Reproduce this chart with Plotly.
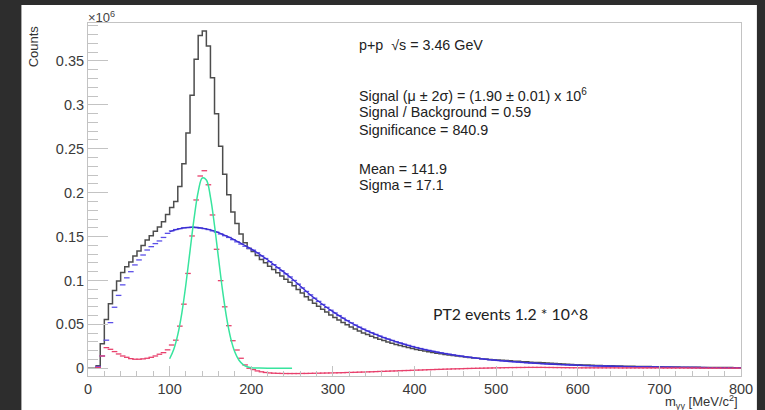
import plotly.graph_objects as go

# ---------------- data ----------------
BIN_WIDTH = 5
X_MAX = 800

# total diphoton mass histogram (counts x 1e6), 5 MeV bins from 0 to 800
total_counts = [
    0, 0, 0.003, 0.028, 0.0555, 0.0736, 0.0885, 0.0993, 0.109, 0.1155,
    0.121, 0.128, 0.1337, 0.1397, 0.146, 0.151, 0.156, 0.161, 0.167, 0.175,
    0.183, 0.190, 0.207, 0.233, 0.268, 0.311, 0.352, 0.379, 0.384, 0.367,
    0.331, 0.290, 0.253, 0.221, 0.1975, 0.178, 0.165, 0.153, 0.143, 0.1365,
    0.1330, 0.1285, 0.1240, 0.1202, 0.1162, 0.1124, 0.1087, 0.1051, 0.1015, 0.0980,
    0.0940, 0.0898, 0.0856, 0.0816, 0.0778, 0.0741, 0.0706, 0.0672, 0.0640, 0.0608,
    0.0578, 0.0549, 0.0521, 0.0495, 0.0470, 0.0446, 0.0424, 0.0403, 0.0384, 0.0365,
    0.0348, 0.0331, 0.0315, 0.0300, 0.0286, 0.0272, 0.0260, 0.0248, 0.0236, 0.0225,
    0.0215, 0.0205, 0.0196, 0.0188, 0.0179, 0.0172, 0.0164, 0.0158, 0.0151, 0.0145,
    0.0139, 0.0133, 0.0128, 0.0123, 0.0118, 0.0113, 0.0109, 0.0105, 0.0101, 0.0097,
    0.0094, 0.0091, 0.0088, 0.0085, 0.0081, 0.0079, 0.0075, 0.0073, 0.0070, 0.0067,
    0.0065, 0.0062, 0.0059, 0.0056, 0.0053, 0.0051, 0.0048, 0.0046, 0.0043, 0.0041,
    0.0039, 0.0037, 0.0036, 0.0034, 0.0033, 0.0032, 0.0030, 0.0029, 0.0028, 0.0027,
    0.0025, 0.0024, 0.0023, 0.0022, 0.0021, 0.0020, 0.0020, 0.0019, 0.0018, 0.0018,
    0.0016, 0.0015, 0.0015, 0.0014, 0.0014, 0.0013, 0.0013, 0.0012, 0.0012, 0.0011,
    0.0010, 0.0010, 0.0009, 0.0009, 0.0009, 0.0008, 0.0008, 0.0008, 0.0007, 0.0007,
]

# combinatorial background histogram (blue points)
background_counts = [
    None, None, 0.002, 0.014, 0.032, 0.052, 0.0695, 0.083, 0.095, 0.103,
    0.110, 0.1177, 0.1234, 0.129, 0.1347, 0.1385, 0.142, 0.145, 0.149, 0.1537,
    0.1565, 0.158, 0.159, 0.160, 0.1603, 0.1605, 0.1602, 0.1597, 0.159, 0.158,
    0.1565, 0.155, 0.153, 0.151, 0.149, 0.1465, 0.144, 0.1415, 0.139, 0.1365,
    0.1345, 0.1315, 0.1280, 0.1250, 0.1215, 0.1180, 0.1145, 0.1110, 0.1075, 0.1040,
    0.1000, 0.0958, 0.0915, 0.0875, 0.0836, 0.0798, 0.0762, 0.0727, 0.0694, 0.0661,
    0.0630, 0.0600, 0.0571, 0.0543, 0.0517, 0.0492, 0.0468, 0.0446, 0.0425, 0.0405,
    0.0386, 0.0367, 0.0350, 0.0333, 0.0317, 0.0302, 0.0288, 0.0274, 0.0261, 0.0248,
    0.0236, 0.0225, 0.0214, 0.0204, 0.0194, 0.0185, 0.0176, 0.0168, 0.0160, 0.0152,
    0.0145, 0.0138, 0.0131, 0.0125, 0.0119, 0.0113, 0.0108, 0.0103, 0.0098, 0.0093,
    0.0089, 0.0085, 0.0081, 0.0077, 0.0073, 0.0070, 0.0066, 0.0063, 0.0060, 0.0057,
    0.0055, 0.0052, 0.0050, 0.0047, 0.0045, 0.0043, 0.0041, 0.0039, 0.0037, 0.0035,
    0.0034, 0.0032, 0.0031, 0.0029, 0.0028, 0.0027, 0.0025, 0.0024, 0.0023, 0.0022,
    0.0021, 0.0020, 0.0019, 0.0018, 0.0017, 0.0016, 0.0016, 0.0015, 0.0014, 0.0014,
    0.0013, 0.0012, 0.0012, 0.0011, 0.0011, 0.0010, 0.0010, 0.0009, 0.0009, 0.0008,
    0.0008, 0.0008, 0.0007, 0.0007, 0.0007, 0.0006, 0.0006, 0.0006, 0.0005, 0.0005,
]

# signal = total - background (red points)
signal_counts = [
    None, None, 0.001, 0.014, 0.0235, 0.0216, 0.019, 0.0163, 0.014, 0.0125,
    0.011, 0.0103, 0.0103, 0.0107, 0.0114, 0.0125, 0.014, 0.016, 0.0178, 0.021,
    0.0265, 0.032, 0.048, 0.073, 0.108, 0.1507, 0.1917, 0.219, 0.225, 0.209,
    0.1746, 0.1355, 0.0998, 0.070, 0.0485, 0.0314, 0.0208, 0.0114, 0.0038, 0.0,
    -0.0015, -0.0030, -0.0040, -0.0048, -0.0053, -0.0056, -0.0058, -0.0059, -0.0060, -0.0060,
    -0.0060, -0.0060, -0.0059, -0.0059, -0.0058, -0.0057, -0.0056, -0.0055, -0.0054, -0.0053,
    -0.0052, -0.0051, -0.0050, -0.0048, -0.0047, -0.0046, -0.0044, -0.0043, -0.0041, -0.0040,
    -0.0038, -0.0036, -0.0035, -0.0033, -0.0031, -0.0030, -0.0028, -0.0026, -0.0025, -0.0023,
    -0.0021, -0.0020, -0.0018, -0.0016, -0.0015, -0.0013, -0.0012, -0.0010, -0.0009, -0.0007,
    -0.0006, -0.0005, -0.0003, -0.0002, -0.0001, 0.0000, 0.0001, 0.0002, 0.0003, 0.0004,
    0.0005, 0.0006, 0.0007, 0.0008, 0.0008, 0.0009, 0.0009, 0.0010, 0.0010, 0.0010,
    0.0010, 0.0010, 0.0009, 0.0009, 0.0008, 0.0008, 0.0007, 0.0007, 0.0006, 0.0006,
    0.0005, 0.0005, 0.0005, 0.0005, 0.0005, 0.0005, 0.0005, 0.0005, 0.0005, 0.0005,
    0.0004, 0.0004, 0.0004, 0.0004, 0.0004, 0.0004, 0.0004, 0.0004, 0.0004, 0.0004,
    0.0003, 0.0003, 0.0003, 0.0003, 0.0003, 0.0003, 0.0003, 0.0003, 0.0003, 0.0003,
    0.0002, 0.0002, 0.0002, 0.0002, 0.0002, 0.0002, 0.0002, 0.0002, 0.0002, 0.0002,
]

# background fit curve (blue line)
bkg_fit_mass = [100, 110, 120, 130, 140, 150, 160, 170, 180, 190, 200, 210, 220, 230, 240,
                250, 260, 270, 280, 290, 300, 310, 320, 330, 340, 350, 360, 370, 380, 390,
                400, 420, 440, 460, 480, 500, 520, 540, 560, 580, 600, 620, 640, 660, 680,
                700, 720, 740, 760, 780, 800]
bkg_fit_value = [0.1555, 0.1585, 0.1603, 0.1606, 0.1596, 0.1575, 0.1545, 0.1505, 0.146, 0.141,
                 0.136, 0.130, 0.1235, 0.1165, 0.1095, 0.102, 0.0937, 0.0855, 0.078, 0.071,
                 0.0645, 0.0585, 0.053, 0.048, 0.0435, 0.0395, 0.0358, 0.0325, 0.0295, 0.0267,
                 0.0242, 0.0199, 0.0164, 0.0135, 0.0111, 0.0091, 0.0075, 0.0061, 0.005, 0.0041,
                 0.0034, 0.0028, 0.0023, 0.0019, 0.0016, 0.0013, 0.0011, 0.0009, 0.0008, 0.0006,
                 0.0005]

# gaussian signal fit (green line)
sig_fit_mass = [100, 105, 110, 115, 120, 125, 130, 135, 140, 145, 150, 155, 160, 165, 170,
                175, 180, 185, 190, 195, 200, 210, 220, 230, 240, 250]
sig_fit_value = [0.0108, 0.0213, 0.0383, 0.0632, 0.096, 0.1338, 0.171, 0.201, 0.2167, 0.2144,
                 0.195, 0.1626, 0.1245, 0.0875, 0.0565, 0.0335, 0.0182, 0.0091, 0.0042, 0.0017,
                 0.0007, 0.0002, 0.0, 0.0, 0.0, 0.0]

x_tick_values = [0, 100, 200, 300, 400, 500, 600, 700, 800]
x_tick_labels = ["0", "100", "200", "300", "400", "500", "600", "700", "800"]
y_tick_values = [0, 0.05, 0.1, 0.15, 0.2, 0.25, 0.3, 0.35]
y_tick_labels = ["0", "0.05", "0.1", "0.15", "0.2", "0.25", "0.3", "0.35"]

info_lines = [
    "p+p  √s = 3.46 GeV",
    "Signal (μ ± 2σ) = (1.90 ± 0.01) x 10<sup>6</sup>",
    "Signal / Background = 0.59",
    "Significance = 840.9",
    "Mean = 141.9",
    "Sigma = 17.1",
]
info_line_y = [45, 95, 112, 129.5, 168.5, 184.5]   # pixel rows of the text lines

# ---------------- geometry ----------------
W, H = 765, 410
L, R, T, B = 88, 20, 23, 34
PW, PH = W - L - R, H - T - B
Y_MIN = -0.0088
Y_MAX = Y_MIN + PH / 878.0


def px(xp):
    return (xp - L) / PW


def py(yp):
    return (H - B - yp) / PH


n_bins = len(total_counts)
bin_low = [i * BIN_WIDTH for i in range(n_bins)]
bin_mid = [b + BIN_WIDTH / 2 for b in bin_low]

fig = go.Figure()

# total histogram as a step outline
fig.add_trace(go.Scatter(
    x=bin_low + [X_MAX], y=total_counts + [total_counts[-1]],
    mode="lines", line=dict(shape="hv", color="#4d4d4d", width=1.5),
    hoverinfo="skip", showlegend=False))

# background points
fig.add_trace(go.Scatter(
    x=bin_mid, y=background_counts, mode="markers",
    marker=dict(symbol="line-ew", size=4, line=dict(color="#5b4fe8", width=1.3)),
    showlegend=False))

# background fit
fig.add_trace(go.Scatter(
    x=bkg_fit_mass, y=bkg_fit_value, mode="lines",
    line=dict(shape="spline", color="#3a2ed0", width=1.3), showlegend=False))

# signal points
fig.add_trace(go.Scatter(
    x=bin_mid, y=signal_counts, mode="markers",
    marker=dict(symbol="line-ew", size=4, line=dict(color="#e8406c", width=1.3)),
    showlegend=False))

# gaussian fit
fig.add_trace(go.Scatter(
    x=sig_fit_mass, y=sig_fit_value, mode="lines",
    line=dict(shape="spline", color="#38e49e", width=1.5), showlegend=False))

axis_col = "#c3c3c3"
font_main = "Liberation Sans, Arial, sans-serif"

fig.update_xaxes(
    range=[0, X_MAX], showline=True, linecolor=axis_col, linewidth=1, mirror=True,
    ticks="inside", ticklen=10, tickcolor=axis_col, tickwidth=1,
    tickmode="array", tickvals=x_tick_values, ticktext=x_tick_labels,
    minor=dict(ticks="inside", ticklen=5, tickcolor=axis_col, tickmode="linear", tick0=0, dtick=20),
    showgrid=False, zeroline=False,
    tickfont=dict(family=font_main, size=14.5, color="#3a3a3a"))

fig.update_yaxes(
    range=[Y_MIN, Y_MAX], showline=True, linecolor=axis_col, linewidth=1, mirror=True,
    ticks="inside", ticklen=20, tickcolor=axis_col, tickwidth=1,
    tickmode="array", tickvals=y_tick_values, ticktext=y_tick_labels,
    minor=dict(ticks="inside", ticklen=10, tickcolor=axis_col, tickmode="linear", tick0=0, dtick=0.01),
    showgrid=False, zeroline=False,
    tickfont=dict(family=font_main, size=14.5, color="#3a3a3a"))

annotations = []
for line, yp in zip(info_lines, info_line_y):
    annotations.append(dict(
        text=line, xref="paper", yref="paper", x=px(359), y=py(yp),
        xanchor="left", yanchor="middle", showarrow=False,
        font=dict(family=font_main, size=14.3, color="#222222")))

annotations.append(dict(
    text="PT2 events 1.2 * 10^8", xref="paper", yref="paper", x=px(433), y=py(313),
    xanchor="left", yanchor="middle", showarrow=False,
    font=dict(family="Lato, Open Sans, sans-serif", size=15.8, color="#222222")))

annotations.append(dict(
    text="×10<sup>6</sup>", xref="paper", yref="paper", x=px(86), y=py(17),
    xanchor="left", yanchor="middle", showarrow=False,
    font=dict(family=font_main, size=13, color="#444444")))

annotations.append(dict(
    text="Counts", xref="paper", yref="paper", x=px(33), y=py(23),
    xanchor="center", yanchor="top", textangle=-90, showarrow=False,
    font=dict(family=font_main, size=13, color="#333333")))

annotations.append(dict(
    text="m<sub>γγ</sub> [MeV/c<sup>2</sup>]", xref="paper", yref="paper",
    x=px(744), y=py(402), xanchor="right", yanchor="middle", showarrow=False,
    font=dict(family=font_main, size=13, color="#333333")))

fig.update_layout(
    width=W, height=H,
    margin=dict(l=L, r=R, t=T, b=B, pad=0),
    paper_bgcolor="#2d2d2d", plot_bgcolor="white",
    annotations=annotations,
    shapes=[dict(type="rect", xref="paper", yref="paper",
                 x0=px(21), x1=px(761), y0=py(H + 5), y1=py(5),
                 fillcolor="white", line=dict(width=0), layer="below")],
)

fig.write_html("out.html")
